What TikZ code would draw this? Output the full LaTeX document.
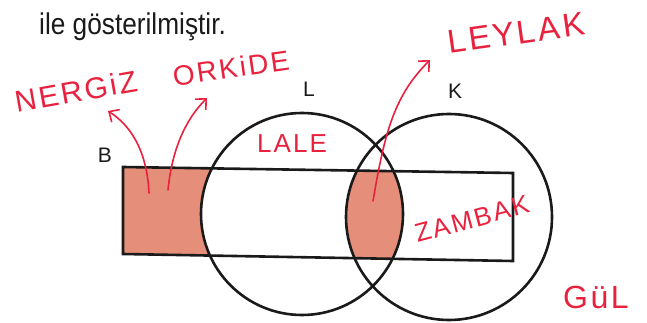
\documentclass[tikz,border=0pt]{standalone}
\usepackage{fontspec}
\setmainfont{Liberation Sans}
\newfontfamily\printfont[FakeStretch=0.875]{Liberation Sans}
\newfontfamily\handfont[LetterSpace=8]{Liberation Sans}
\usetikzlibrary{arrows.meta}
\definecolor{myred}{HTML}{E8223E}
\definecolor{mysalmon}{HTML}{E58E79}
\definecolor{myink}{HTML}{1A1A1A}

\begin{document}
\begin{tikzpicture}[x=1pt, y=-1pt,
    every node/.style={inner sep=0pt, text=myink},
    setlabel/.style={font=\fontsize{21}{21}\selectfont},
    hand/.style={text=myred, font=\handfont\fontsize{#1}{#1}\selectfont},
    setline/.style={draw=myink, line width=2.6pt},
    arr/.style={-{Straight Barb[length=8pt,width=15pt]}, line width=1.6pt,
                myred, line cap=round}
  ]
  \useasboundingbox (0,0) rectangle (647,323);
  \def\bset{(123,167) -- (513,173) -- (513,261) -- (123,254) -- cycle}
  % shaded parts of B
  \begin{scope}
    \clip \bset;
    \fill[mysalmon, even odd rule] \bset (302,214) circle[radius=101pt]
      (449,217) circle[radius=103pt];
  \end{scope}
  \draw[setline] \bset;
  \draw[setline] (302,214) circle[radius=101pt];
  \draw[setline] (449,217) circle[radius=103pt];

  \node[anchor=base west, font=\printfont\fontsize{30}{30}\selectfont]
    (title) at (39,35) {ile gösterilmiştir.};
  \node[setlabel] (B) at (105,155) {B};
  \node[setlabel] (L) at (309,89) {L};
  \node[setlabel] (K) at (455,91) {K};

  \node[hand=30, rotate=10] (nergiz) at (76,91) {NERGiZ};
  \node[hand=28, rotate=8] (orkide) at (231,68) {ORKiDE};
  \node[hand=26] (lale) at (292,144) {LALE};
  \node[hand=33, rotate=8] (leylak) at (516,33) {LEYLAK};
  \node[hand=26, rotate=15] (zambak) at (472,219) {ZAMBAK};
  \node[hand=32] (gul) at (596,297) {GüL};

  \coordinate (d1) at (149,193);
  \coordinate (d2) at (168,190);
  \coordinate (d3) at (373,201);
  \coordinate (t1) at (108,111);
  \coordinate (t2) at (207,98);
  \coordinate (t3) at (430,60);
  \draw[arr] (d1) .. controls (147,150) and (130,125) .. (t1);
  \draw[arr] (d2) .. controls (172,150) and (185,120) .. (t2);
  \draw[arr] (d3) .. controls (385,130) and (395,95) .. (t3);
\end{tikzpicture}
\end{document}
